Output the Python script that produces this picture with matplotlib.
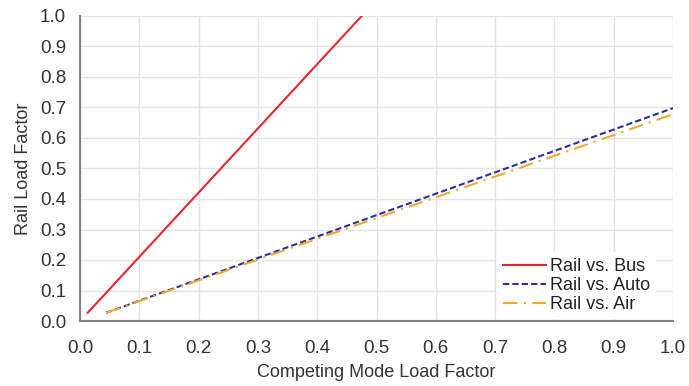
import matplotlib
matplotlib.use("Agg")
import matplotlib.pyplot as plt

plt.rcParams['font.family'] = ['Liberation Sans', 'DejaVu Sans']

bus_x = [0.013, 0.475]
bus_y = [0.027, 1.0]
auto_x = [0.044, 1.0]
auto_y = [0.027, 0.698]
air_x = [0.044, 1.0]
air_y = [0.027, 0.678]
ticks = [0.0, 0.1, 0.2, 0.3, 0.4, 0.5, 0.6, 0.7, 0.8, 0.9, 1.0]

fig = plt.figure(figsize=(6.89, 3.86), dpi=100)
ax = fig.add_axes([80/689, (386-321)/386, 593/689, 305/386])

ax.plot(bus_x, bus_y, color='#e8262d', lw=1.5, label='Rail vs. Bus')
ax.plot(auto_x, auto_y, color='#2e2e9a', lw=1.5, ls=(0, (3, 1.5)), label='Rail vs. Auto')
ax.plot(air_x, air_y, color='#f0a830', lw=1.5, ls=(0, (7, 3, 1, 3)), label='Rail vs. Air')

ax.set_xlim(0, 1)
ax.set_ylim(0, 1)
ax.set_xticks(ticks)
ax.set_yticks(ticks)
ax.set_xticklabels([f"{t:.1f}" for t in ticks], fontsize=13.5, color='#333333')
ax.set_yticklabels([f"{t:.1f}" for t in ticks], fontsize=13.5, color='#333333')
ax.tick_params(axis='x', length=0, pad=14)
ax.tick_params(axis='y', length=0, pad=10)
ax.grid(True, color='#e4e4e4', lw=1)
ax.set_axisbelow(True)
for s in ['top', 'right']:
    ax.spines[s].set_visible(False)
for s in ['left', 'bottom']:
    ax.spines[s].set_color('#808080')
    ax.spines[s].set_linewidth(1.5)

ax.set_xlabel('Competing Mode Load Factor', fontsize=13, color='#333333', labelpad=5)
ax.set_ylabel('Rail Load Factor', fontsize=13, color='#333333', labelpad=6)

leg = ax.legend(loc='lower right', bbox_to_anchor=(0.975, 0.0), fontsize=13,
                frameon=True, framealpha=1, edgecolor='none', fancybox=False,
                handlelength=2.4, handletextpad=0.2, labelspacing=0.1,
                borderpad=0.35, borderaxespad=0.1)
for t in leg.get_texts():
    t.set_color('#222222')

fig.savefig('out.png', dpi=100)
